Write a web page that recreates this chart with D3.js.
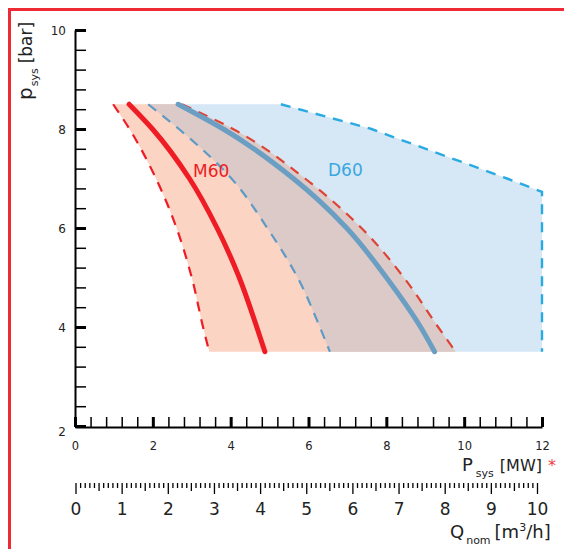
<!DOCTYPE html>
<html><head><meta charset="utf-8">
<script src="https://cdn.jsdelivr.net/npm/d3@7"></script>
<style>
html,body{margin:0;padding:0;background:#fff;}
svg{display:block;font-family:"DejaVu Sans",Verdana,sans-serif;}
</style></head>
<body>
<svg id="chart" width="564" height="549"></svg>
<script>
// ---- data ----
const pressureLevels = [8.5, 8, 7, 6, 5, 4, 3.5];          // bar
const m60Min = [0.98, 1.40, 2.08, 2.61, 3.00, 3.29, 3.45];   // MW
const m60Nom = [1.39, 1.99, 2.94, 3.65, 4.22, 4.67, 4.88];
const m60Max = [2.75, 4.06, 5.91, 7.36, 8.45, 9.33, 9.78];
const d60Min = [1.88, 2.67, 4.02, 4.94, 5.72, 6.29, 6.55];
const d60Nom = [2.65, 3.81, 5.61, 6.98, 8.00, 8.88, 9.24];
const d60MaxPower = [5.29, 7.62, 8.52, 11.10, 12, 12];
const d60MaxPressure = [8.5, 8.0, 7.74, 7.0, 6.73, 3.5];
const pressureTickLabels = [2, 4, 6, 8, 10];
const powerTickLabels = [0, 2, 4, 6, 8, 10, 12];
const flowTickLabels = [0, 1, 2, 3, 4, 5, 6, 7, 8, 9, 10];
const seriesLabels = ["M60", "D60"];

const svg = d3.select("#chart");
const x = d3.scaleLinear().domain([0, 12]).range([75, 542]);
const y = d3.scaleLinear().domain([2, 10]).range([426, 30]);
const q = d3.scaleLinear().domain([0, 10]).range([75.5, 537]);

const C = {
  salmon: "#fcd4c3", blue: "#d6e7f6", mauve: "#dbcac7",
  red: "#ee1c25", redDash: "#df4334", steel: "#6a9ec2", steelDash: "#5d9bc6",
  cyanDash: "#29abe2", d60Text: "#3aa8df"
};

// frame
svg.append("path").attr("d", "M9.5,549V9.5H566").attr("fill", "none")
  .attr("stroke", "#ee2a35").attr("stroke-width", 3);

const pts = arr => arr.map((v, i) => [v, pressureLevels[i]]);
const lineY = d3.line().x(d => x(d[0])).y(d => y(d[1])).curve(d3.curveMonotoneY);
const lineLin = d3.line().x(d => x(d[0])).y(d => y(d[1]));
const areaY = (a0, a1) => d3.area()
  .y((d, i) => y(pressureLevels[i]))
  .x0((d, i) => x(a0[i])).x1((d, i) => x(a1[i]))
  .curve(d3.curveMonotoneY)(pressureLevels);

// D60 region
const d60MaxPts = d60MaxPower.map((v, i) => [v, d60MaxPressure[i]]);
const d60Region = lineY(pts(d60Min)) +
  d60MaxPts.slice().reverse().map(p => "L" + x(p[0]) + "," + y(p[1])).join("") + "Z";
svg.append("path").attr("d", d60Region).attr("fill", C.blue);
// M60 region
svg.append("path").attr("d", areaY(m60Min, m60Max)).attr("fill", C.salmon);
// overlap
svg.append("path").attr("d", areaY(d60Min, m60Max)).attr("fill", C.mauve);

// dashed boundaries
const dash = "10,8";
svg.append("path").attr("d", lineY(pts(m60Min))).attr("fill", "none")
  .attr("stroke", C.red).attr("stroke-width", 2.2).attr("stroke-dasharray", dash);
svg.append("path").attr("d", lineY(pts(m60Max))).attr("fill", "none")
  .attr("stroke", C.redDash).attr("stroke-width", 2.2).attr("stroke-dasharray", dash);
svg.append("path").attr("d", lineY(pts(d60Min))).attr("fill", "none")
  .attr("stroke", C.steelDash).attr("stroke-width", 2.2).attr("stroke-dasharray", dash);
svg.append("path").attr("d", lineLin(d60MaxPts)).attr("fill", "none")
  .attr("stroke", C.cyanDash).attr("stroke-width", 2.4).attr("stroke-dasharray", dash);

// nominal lines
svg.append("path").attr("d", lineY(pts(d60Nom))).attr("fill", "none")
  .attr("stroke", C.steel).attr("stroke-width", 5).attr("stroke-linecap", "round");
svg.append("path").attr("d", lineY(pts(m60Nom))).attr("fill", "none")
  .attr("stroke", C.red).attr("stroke-width", 5).attr("stroke-linecap", "round");

// series labels
svg.append("text").attr("x", 193).attr("y", 177).attr("font-size", 17)
  .attr("fill", C.red).text(seriesLabels[0]);
svg.append("text").attr("x", 328).attr("y", 176).attr("font-size", 17)
  .attr("fill", C.d60Text).text(seriesLabels[1]);

// ---- Y axis ----
const yMinor = d3.range(0, 21).map(i => 2 + i * 0.4);
const yAx = svg.append("g").attr("transform", "translate(75,0)")
  .call(d3.axisRight(y).tickValues(yMinor).tickSize(11).tickSizeOuter(0).tickFormat(""));
yAx.select(".domain").attr("stroke", "#000").attr("stroke-width", 2);
yAx.selectAll(".tick line").attr("stroke", "#000")
  .attr("stroke-width", d => pressureTickLabels.some(v => Math.abs(v - d) < 1e-6) ? 3 : 1.5);
const yLab = svg.append("g").attr("transform", "translate(66,0)")
  .call(d3.axisLeft(y).tickValues(pressureTickLabels).tickSize(0).tickPadding(0).tickFormat(d3.format("d")));
yLab.select(".domain").remove();
yLab.selectAll("text").attr("font-size", 12).attr("font-family", "DejaVu Sans").attr("fill", "#222")
  .attr("dy", d => d === 2 ? "0.75em" : "0.35em");

// ---- X axis (P_sys) ----
const xMinor = d3.range(0, 31).map(i => i * 0.4);
const xAx = svg.append("g").attr("transform", "translate(0,427)")
  .call(d3.axisTop(x).tickValues(xMinor).tickSize(10).tickSizeOuter(0).tickFormat(""));
xAx.select(".domain").attr("stroke", "#000").attr("stroke-width", 2);
xAx.selectAll(".tick line").attr("stroke", "#000")
  .attr("stroke-width", d => powerTickLabels.some(v => Math.abs(v - d) < 1e-6) ? 3 : 1.5);
const xLab = svg.append("g").attr("transform", "translate(0,450)")
  .call(d3.axisBottom(x).tickValues(powerTickLabels).tickSize(0).tickPadding(0).tickFormat(d3.format("d")));
xLab.select(".domain").remove();
xLab.selectAll("text").attr("font-size", 11.5).attr("font-family", "DejaVu Sans").attr("fill", "#222")
  .attr("y", 0).attr("dy", 0);

// ---- Q axis ----
const qTicks = d3.range(0, 101).map(i => i / 10);
const qAx = svg.append("g").attr("transform", "translate(0,483)")
  .call(d3.axisBottom(q).tickValues(qTicks).tickSizeOuter(0).tickFormat(""));
qAx.select(".domain").remove();
qAx.selectAll(".tick line").attr("stroke", "#000").attr("stroke-width", 1.3)
  .attr("y2", (d, i) => i % 10 === 0 ? 11 : (i % 5 === 0 ? 8 : 5));
const qLab = svg.append("g").attr("transform", "translate(0,515)")
  .call(d3.axisBottom(q).tickValues(flowTickLabels).tickSize(0).tickPadding(0).tickFormat(d3.format("d")));
qLab.select(".domain").remove();
qLab.selectAll("text").attr("font-size", 17).attr("font-family", "DejaVu Sans").attr("fill", "#222")
  .attr("y", 0).attr("dy", 0);

// ---- axis titles ----
const tP = svg.append("text").attr("x", 462).attr("y", 471).attr("font-size", 18).attr("fill", "#222");
tP.append("tspan").text("P");
tP.append("tspan").attr("font-size", 11).attr("dy", 6).attr("dx", 3).text("sys");
tP.append("tspan").attr("dy", -6).attr("dx", 6).attr("font-size", 16).text("[MW]");
tP.append("tspan").attr("dx", 6).attr("fill", "#ee3a44").attr("font-size", 16).text("*");

const tQ = svg.append("text").attr("x", 450).attr("y", 538).attr("font-size", 18).attr("fill", "#222");
tQ.append("tspan").text("Q");
tQ.append("tspan").attr("font-size", 11).attr("dy", 6).attr("dx", 2).text("nom");
tQ.append("tspan").attr("dy", -6).attr("dx", 4).text("[m");
tQ.append("tspan").attr("font-size", 11).attr("dy", -7).text("3");
tQ.append("tspan").attr("dy", 7).text("/h]");

const tY = svg.append("text").attr("transform", "translate(32,100) rotate(-90)")
  .attr("font-size", 18).attr("fill", "#222");
tY.append("tspan").attr("font-size", 20).text("p");
tY.append("tspan").attr("font-size", 11).attr("dy", 6).attr("dx", 1).text("sys");
tY.append("tspan").attr("dy", -6).attr("dx", 5).attr("font-size", 17).text("[bar]");
</script>
</body></html>
